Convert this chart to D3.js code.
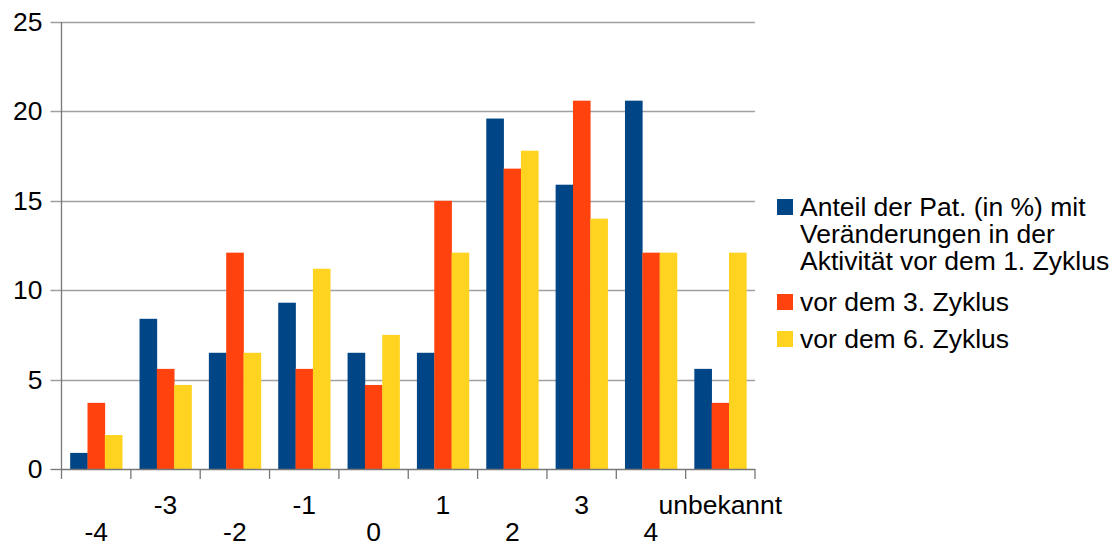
<!DOCTYPE html>
<html>
<head>
<meta charset="utf-8">
<script src="https://cdn.jsdelivr.net/npm/d3@7"></script>
<style>
  body { margin: 0; background: #fff; }
  svg { display: block; font-family: "Liberation Sans", Arial, sans-serif; }
</style>
</head>
<body>
<div id="chart"></div>
<script>
// Categories (change in activity) and the three series
const categories = ["-4", "-3", "-2", "-1", "0", "1", "2", "3", "4", "unbekannt"];
const zyklus1 = [0.9, 8.4, 6.5, 9.3, 6.5, 6.5, 19.6, 15.9, 20.6, 5.6];
const zyklus3 = [3.7, 5.6, 12.1, 5.6, 4.7, 15.0, 16.8, 20.6, 12.1, 3.7];
const zyklus6 = [1.9, 4.7, 6.5, 11.2, 7.5, 12.1, 17.8, 14.0, 12.1, 12.1];
const yTicks = [0, 5, 10, 15, 20, 25];

const seriesNames = [
    ["Anteil der Pat. (in %) mit", "Veränderungen in der", "Aktivität vor dem 1. Zyklus"],
    ["vor dem 3. Zyklus"],
    ["vor dem 6. Zyklus"]
];
const colors = ["#004586", "#ff420e", "#ffd320"];
const series = [zyklus1, zyklus3, zyklus6];

const width = 1112;
const height = 546;
const margin = { top: 22, right: 357, bottom: 77, left: 61.5 };
const sx = 1.06; // text in the original is a bit wider than Arial

const svg = d3.select("#chart")
    .append("svg")
    .attr("width", width)
    .attr("height", height);

const x = d3.scaleBand()
    .domain(categories)
    .range([margin.left, width - margin.right])
    .paddingInner(0.25)
    .paddingOuter(0.125);

const xOuter = d3.scaleBand()
    .domain(categories)
    .range([margin.left, width - margin.right]);

const xSub = d3.scaleBand()
    .domain(d3.range(series.length))
    .range([0, x.bandwidth()]);

const y = d3.scaleLinear()
    .domain([0, 25])
    .range([height - margin.bottom, margin.top]);

// grid lines
svg.append("g")
    .selectAll("line")
    .data(yTicks.filter(d => d > 0))
    .enter().append("line")
    .attr("x1", margin.left - 11)
    .attr("x2", width - margin.right)
    .attr("y1", d => Math.round(y(d)) + 0.5)
    .attr("y2", d => Math.round(y(d)) + 0.5)
    .attr("stroke", "#a0a0a0")
    .attr("stroke-width", 1.3);

// bars
const flat = [];
series.forEach((s, i) => {
    s.forEach((v, j) => flat.push({ cat: categories[j], s: i, v: v }));
});

svg.append("g")
    .selectAll("rect")
    .data(flat)
    .enter().append("rect")
    .attr("x", d => x(d.cat) + xSub(d.s))
    .attr("y", d => y(d.v))
    .attr("width", xSub.bandwidth() + 0.3)
    .attr("height", d => y(0) - y(d.v))
    .attr("fill", d => colors[d.s]);

// y axis
const yAxis = svg.append("g")
    .attr("transform", `translate(${margin.left},0)`);
yAxis.append("line")
    .attr("y1", y(25)).attr("y2", y(0))
    .attr("stroke", "#777").attr("stroke-width", 1.3);
yAxis.selectAll(".tick")
    .data(yTicks)
    .enter().append("text")
    .attr("transform", d => `translate(-19,${y(d)}) scale(${sx},1)`)
    .attr("dy", "0.36em")
    .attr("text-anchor", "end")
    .style("font-size", "25px")
    .attr("fill", "#000")
    .text(d => d);
yAxis.selectAll(".tk")
    .data([0])
    .enter().append("line")
    .attr("x1", -11).attr("x2", 0)
    .attr("y1", d => Math.round(y(d)) + 0.5).attr("y2", d => Math.round(y(d)) + 0.5)
    .attr("stroke", "#777").attr("stroke-width", 1.3);

// x axis
const xAxis = svg.append("g");
xAxis.append("line")
    .attr("x1", margin.left).attr("x2", width - margin.right)
    .attr("y1", Math.round(y(0)) + 0.5).attr("y2", Math.round(y(0)) + 0.5)
    .attr("stroke", "#777").attr("stroke-width", 1.3);
const bounds = categories.map(c => xOuter(c)).concat([width - margin.right]);
xAxis.selectAll(".xt")
    .data(bounds)
    .enter().append("line")
    .attr("x1", d => d).attr("x2", d => d)
    .attr("y1", y(0)).attr("y2", y(0) + 10)
    .attr("stroke", "#777").attr("stroke-width", 1.3);
xAxis.selectAll("text")
    .data(categories)
    .enter().append("text")
    .attr("transform", (d, i) =>
        `translate(${xOuter(d) + xOuter.bandwidth() / 2},${i % 2 === 1 ? 514 : 541}) scale(${sx},1)`)
    .attr("text-anchor", "middle")
    .style("font-size", "25px")
    .attr("fill", "#000")
    .text(d => d);

// legend
const legend = svg.append("g");
const legendTop = [199, 294, 331];
seriesNames.forEach((lines, i) => {
    legend.append("rect")
        .attr("x", 777).attr("y", legendTop[i])
        .attr("width", 16).attr("height", 16)
        .attr("fill", colors[i]);
    lines.forEach((t, k) => {
        legend.append("text")
            .attr("transform", `translate(800,${legendTop[i] + 17 + k * 27}) scale(${sx},1)`)
            .style("font-size", "25px")
            .attr("fill", "#000")
            .text(t);
    });
});
</script>
</body>
</html>
